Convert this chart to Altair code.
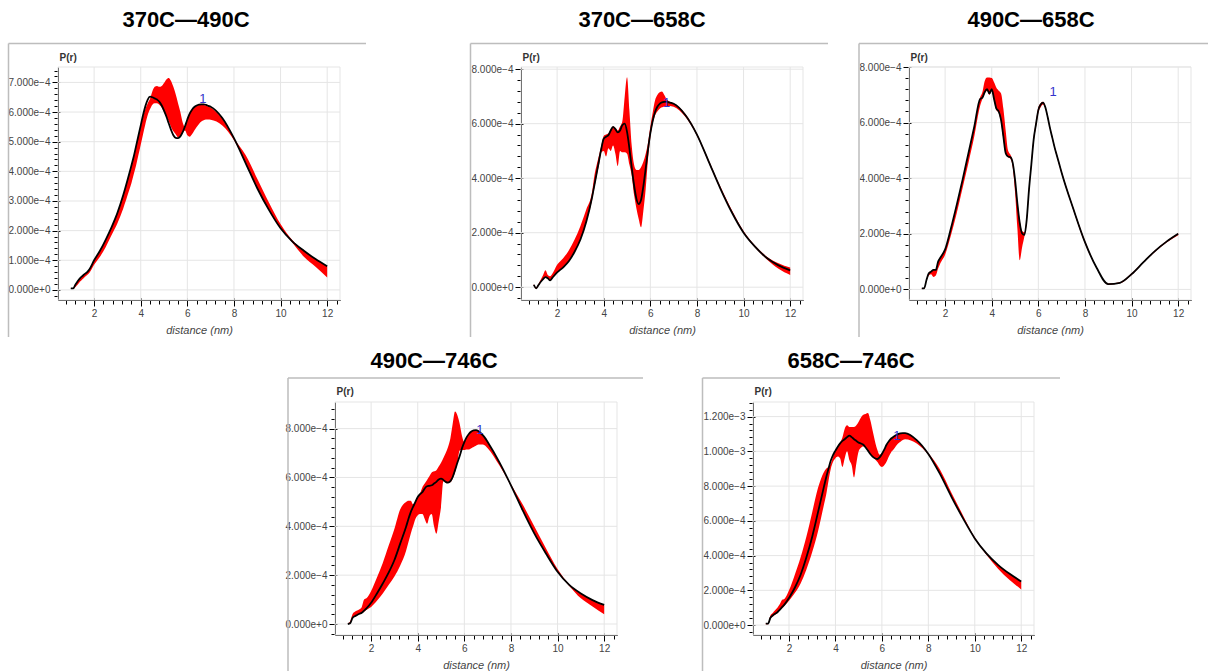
import altair as alt
import pandas as pd

FONT = "Liberation Sans"
FRAME = "#bdbdbd"
GRID = "#e5e5e5"
TEXT = "#444444"
PAGE_W, PAGE_H = 1209, 672

# distance grid (nm) shared by every panel
R = [1.0, 1.1, 1.2, 1.3, 1.4, 1.5, 1.6, 1.7, 1.8,
     2.0, 2.25, 2.5, 2.75, 3.0, 3.25, 3.5,
     3.6, 3.7, 3.8, 3.9, 4.0, 4.1, 4.2, 4.3, 4.4, 4.5,
     4.6, 4.7, 4.8, 4.9, 5.0, 5.1, 5.2, 5.3, 5.4, 5.5,
     5.6, 5.7, 5.8, 5.9, 6.0, 6.1, 6.2, 6.3, 6.4, 6.5,
     6.6, 6.7, 6.8, 6.9, 7.0,
     7.5, 8.0, 8.5, 9.0, 9.5, 10.0, 10.5, 11.0, 11.5, 12.0]

X_DOMAIN = [0.45, 12.55]
X_MAJOR = [2, 4, 6, 8, 10, 12]
X_MINOR = [0.8, 1.2, 1.6, 2.0, 2.4, 2.8, 3.2, 3.6, 4.0, 4.4, 4.8, 5.2, 5.6, 6.0,
           6.4, 6.8, 7.2, 7.6, 8.0, 8.4, 8.8, 9.2, 9.6, 10.0, 10.4, 10.8, 11.2,
           11.6, 12.0, 12.4]

# P(r) values below are in units of 1e-4
# ---- 370C-490C
P1_LINE = [0.05, 0.05, 0.18, 0.30, 0.40, 0.47, 0.54, 0.60, 0.70,
           1.00, 1.32, 1.70, 2.12, 2.60, 3.20, 3.90,
           4.20, 4.50, 4.85, 5.20, 5.55, 5.90, 6.20, 6.42, 6.52, 6.50,
           6.46, 6.42, 6.35, 6.22, 6.05, 5.85, 5.62, 5.40, 5.22, 5.13,
           5.12, 5.18, 5.32, 5.52, 5.75, 5.95, 6.08, 6.17, 6.22, 6.25,
           6.26, 6.26, 6.24, 6.21, 6.18,
           5.80, 5.12, 4.28, 3.43, 2.70, 2.08, 1.64, 1.32, 1.04, 0.80]
P1_LO = [0.03, 0.03, 0.10, 0.18, 0.28, 0.36, 0.44, 0.50, 0.58,
         0.85, 1.12, 1.45, 1.85, 2.25, 2.75, 3.35,
         3.60, 3.90, 4.20, 4.55, 4.90, 5.25, 5.60, 5.90, 6.10, 6.25,
         6.30, 6.30, 6.25, 6.15, 6.00, 5.85, 5.70, 5.50, 5.35, 5.25,
         5.15, 5.20, 5.30, 5.38, 5.22, 5.17, 5.25, 5.38, 5.50, 5.60,
         5.68, 5.72, 5.75, 5.75, 5.74,
         5.55, 5.05, 4.28, 3.43, 2.70, 2.08, 1.60, 1.12, 0.78, 0.42]
P1_HI = [0.06, 0.06, 0.18, 0.30, 0.40, 0.47, 0.54, 0.60, 0.70,
         1.00, 1.32, 1.70, 2.12, 2.60, 3.20, 3.90,
         4.20, 4.50, 4.85, 5.20, 5.50, 5.85, 6.10, 6.30, 6.45, 6.70,
         6.85, 6.88, 6.85, 6.88, 6.98, 7.10, 7.15, 7.05, 6.85, 6.60,
         6.30, 6.00, 5.65, 5.50, 5.80, 5.97, 6.09, 6.17, 6.22, 6.24,
         6.24, 6.24, 6.22, 6.19, 6.15,
         5.78, 5.12, 4.55, 3.75, 2.95, 2.22, 1.68, 1.32, 1.04, 0.80]

# ---- 370C-658C
P2_LINE = [0.09, -0.04, 0.08, 0.20, 0.30, 0.37, 0.33, 0.25, 0.35,
           0.54, 0.72, 0.95, 1.30, 1.75, 2.40, 3.30,
           3.75, 4.20, 4.65, 5.10, 5.45, 5.52, 5.58, 5.75, 5.88, 5.80,
           5.68, 5.75, 5.95, 6.00, 5.70, 5.10, 4.40, 3.75, 3.25, 3.05,
           3.20, 3.70, 4.35, 5.05, 5.65, 6.10, 6.42, 6.62, 6.73, 6.78,
           6.80, 6.81, 6.78, 6.76, 6.73,
           6.32, 5.60, 4.62, 3.63, 2.74, 2.00, 1.48, 1.07, 0.80, 0.62]
P2_LO = [0.05, -0.06, 0.05, 0.18, 0.28, 0.35, 0.30, 0.25, 0.35,
         0.54, 0.72, 0.95, 1.30, 1.75, 2.40, 3.20,
         3.65, 4.10, 4.50, 4.95, 5.00, 4.80, 5.10, 5.00, 5.20, 4.90,
         4.45, 5.00, 4.95, 4.95, 4.90, 4.50, 4.10, 3.40, 2.90, 2.50,
         2.20, 2.80, 3.60, 4.70, 5.50, 6.00, 6.30, 6.45, 6.55, 6.60,
         6.62, 6.65, 6.65, 6.64, 6.62,
         6.25, 5.55, 4.58, 3.60, 2.72, 1.98, 1.45, 1.02, 0.68, 0.45]
P2_HI = [0.12, 0.00, 0.12, 0.28, 0.45, 0.62, 0.45, 0.40, 0.50,
         0.82, 1.05, 1.35, 1.75, 2.25, 2.85, 3.50,
         4.10, 4.50, 4.85, 5.20, 5.55, 5.60, 5.65, 5.80, 5.90, 5.85,
         5.75, 5.90, 6.10, 7.00, 7.70, 6.50, 5.20, 4.50, 4.30, 4.30,
         4.40, 4.60, 4.90, 5.30, 5.90, 6.40, 6.85, 7.05, 7.15, 7.18,
         7.05, 6.90, 6.82, 6.78, 6.75,
         6.36, 5.64, 4.68, 3.70, 2.82, 2.06, 1.52, 1.12, 0.88, 0.72]

# ---- 490C-658C
P3_LINE = [0.04, 0.04, 0.34, 0.58, 0.64, 0.70, 0.70, 1.00, 1.15,
           1.44, 2.20, 3.05, 3.95, 4.90, 5.85, 6.85,
           6.90, 7.10, 7.20, 7.05, 7.20, 6.85, 6.50, 6.40, 6.10, 5.50,
           4.90, 4.78, 4.76, 4.55, 3.95, 3.10, 2.40, 2.02, 1.96, 2.50,
           3.60, 4.50, 5.40, 5.95, 6.45, 6.65, 6.72, 6.55, 6.20, 5.80,
           5.45, 5.10, 4.80, 4.50, 4.20,
           2.90, 1.70, 0.78, 0.19, 0.24, 0.55, 0.97, 1.38, 1.72, 2.00]
P3_LO = [0.02, 0.02, 0.30, 0.50, 0.55, 0.45, 0.50, 0.75, 0.95,
         1.25, 1.95, 2.75, 3.65, 4.55, 5.50, 6.60,
         6.85, 7.05, 7.15, 7.00, 7.15, 6.80, 6.45, 6.35, 6.00, 5.40,
         4.85, 4.75, 4.70, 4.40, 3.50, 2.20, 1.05, 1.50, 1.90, 2.40,
         3.50, 4.40, 5.30, 5.85, 6.35, 6.55, 6.65, 6.50, 6.15, 5.75,
         5.40, 5.05, 4.75, 4.45, 4.15,
         2.85, 1.65, 0.76, 0.17, 0.22, 0.52, 0.95, 1.35, 1.69, 1.95]
P3_HI = [0.05, 0.05, 0.36, 0.60, 0.66, 0.70, 0.72, 1.00, 1.15,
         1.44, 2.20, 3.05, 3.95, 4.90, 5.85, 6.90,
         7.10, 7.50, 7.62, 7.62, 7.60, 7.45, 7.25, 7.15, 7.05, 6.50,
         5.70, 5.00, 4.85, 4.60, 4.00, 3.20, 2.50, 2.10, 2.05, 2.60,
         3.70, 4.60, 5.50, 6.05, 6.55, 6.70, 6.75, 6.60, 6.25, 5.85,
         5.50, 5.15, 4.85, 4.55, 4.25,
         2.95, 1.75, 0.80, 0.21, 0.26, 0.58, 1.00, 1.40, 1.74, 2.02]

# ---- 490C-746C
P4_LINE = [0.00, 0.03, 0.25, 0.32, 0.37, 0.42, 0.46, 0.55, 0.64,
           0.87, 1.25, 1.66, 2.10, 2.62, 3.30, 3.98,
           4.30, 4.58, 4.80, 5.00, 5.20, 5.32, 5.40, 5.55, 5.64, 5.66,
           5.68, 5.75, 5.82, 5.92, 5.95, 5.90, 5.82, 5.79, 5.85, 6.02,
           6.30, 6.60, 6.88, 7.20, 7.45, 7.65, 7.79, 7.88, 7.93, 7.94,
           7.90, 7.82, 7.72, 7.60, 7.45,
           6.63, 5.68, 4.66, 3.71, 2.89, 2.14, 1.60, 1.25, 0.98, 0.78]
P4_LO = [0.00, 0.03, 0.25, 0.30, 0.35, 0.40, 0.44, 0.50, 0.58,
         0.70, 0.95, 1.25, 1.60, 1.95, 2.40, 3.00,
         3.35, 3.70, 4.00, 4.30, 4.45, 4.50, 4.50, 4.30, 4.10, 4.40,
         4.50, 4.00, 3.70, 4.20, 4.80, 5.85, 5.80, 5.78, 5.80, 5.95,
         6.20, 6.60, 7.10, 7.12, 7.12, 7.15, 7.15, 7.20, 7.25, 7.30,
         7.35, 7.35, 7.35, 7.30, 7.20,
         6.50, 5.65, 4.66, 3.71, 2.89, 2.14, 1.56, 1.05, 0.72, 0.40]
P4_HI = [0.02, 0.10, 0.40, 0.50, 0.55, 0.60, 0.70, 1.00, 1.05,
         1.35, 1.90, 2.50, 3.20, 3.90, 4.70, 5.00,
         5.05, 5.05, 4.90, 5.00, 5.20, 5.35, 5.60, 5.75, 5.90, 6.05,
         6.20, 6.25, 6.30, 6.45, 6.60, 6.80, 7.00, 7.25, 7.60, 8.20,
         8.70, 8.55, 8.20, 7.70, 7.45, 7.65, 7.79, 7.88, 7.93, 7.94,
         7.90, 7.82, 7.72, 7.60, 7.45,
         6.63, 5.72, 4.90, 4.00, 3.10, 2.25, 1.62, 1.25, 0.98, 0.78]

# ---- 658C-746C
P5_LINE = [0.08, 0.08, 0.42, 0.55, 0.65, 0.74, 0.88, 1.03, 1.18,
           1.56, 2.15, 2.90, 3.90, 5.09, 6.50, 7.94,
           8.50, 9.00, 9.47, 9.80, 10.04, 10.27, 10.46, 10.60, 10.70, 10.82,
           10.90, 10.82, 10.70, 10.60, 10.50, 10.45, 10.38, 10.22, 10.04, 9.85,
           9.70, 9.60, 9.56, 9.65, 9.85, 10.10, 10.38, 10.58, 10.74, 10.84,
           10.93, 10.99, 11.03, 11.05, 11.05,
           10.65, 9.85, 8.70, 7.37, 6.13, 4.99, 4.13, 3.47, 2.95, 2.51]
P5_LO = [0.05, 0.05, 0.35, 0.50, 0.60, 0.70, 0.85, 0.95, 1.10,
         1.40, 1.85, 2.40, 3.20, 4.20, 5.40, 6.90,
         7.50, 8.30, 9.00, 9.40, 9.60, 9.70, 9.60, 9.10, 9.60, 10.00,
         9.50, 9.20, 8.50, 9.30, 10.00, 10.20, 10.30, 10.20, 10.00, 9.85,
         9.70, 9.55, 9.40, 9.20, 9.10, 9.20, 9.40, 9.70, 9.95, 10.10,
         10.30, 10.45, 10.55, 10.65, 10.70,
         10.45, 9.80, 8.70, 7.37, 6.13, 4.95, 4.05, 3.25, 2.60, 2.05]
P5_HI = [0.10, 0.12, 0.55, 0.70, 0.85, 1.00, 1.20, 1.45, 1.50,
         2.00, 2.90, 3.90, 5.10, 6.50, 7.90, 8.80,
         9.00, 9.10, 9.30, 9.70, 10.00, 10.30, 10.50, 10.80, 11.30, 11.50,
         11.40, 11.40, 11.40, 11.50, 11.70, 11.95, 12.10, 12.15, 12.20, 11.80,
         11.20, 10.60, 10.10, 9.80, 9.90, 10.10, 10.38, 10.58, 10.74, 10.84,
         10.93, 10.99, 11.03, 11.05, 11.05,
         10.65, 9.90, 8.95, 7.60, 6.30, 5.05, 4.15, 3.47, 2.95, 2.51]

TITLES = ["370C\u2014490C", "370C\u2014658C", "490C\u2014658C",
          "490C\u2014746C", "658C\u2014746C"]
LINES = [P1_LINE, P2_LINE, P3_LINE, P4_LINE, P5_LINE]
LOWS = [P1_LO, P2_LO, P3_LO, P4_LO, P5_LO]
HIGHS = [P1_HI, P2_HI, P3_HI, P4_HI, P5_HI]
# peak marker "1": distance (nm), P(r) in 1e-4
MARK_R = [6.67, 6.70, 6.63, 6.67, 6.65]
MARK_P = [6.30, 6.60, 6.95, 7.80, 10.65]
# y ranges (1e-4) and tick lists (1e-4)
Y_DOMAINS = [[-0.34, 7.52], [-0.47, 8.08], [-0.38, 8.0], [-0.45, 9.09], [-0.57, 12.84]]
Y_MAJOR = [[0, 1, 2, 3, 4, 5, 6, 7], [0, 2, 4, 6, 8], [0, 2, 4, 6, 8],
           [0, 2, 4, 6, 8], [0, 2, 4, 6, 8, 10, 12]]
Y_MINOR_STEP = [0.2, 0.4, 0.4, 0.4, 0.4]

# page layout, in pixels
PX = [(58, 340), (521, 803), (909, 1191), (335, 617), (753, 1034)]   # plot left / right
PY = [(300, 67), (300, 67), (300, 67), (635, 402), (635, 402)]       # plot bottom / top
PR_Y = [60, 60, 60, 394, 394]                                       # "P(r)" baseline
HEAD = [(186, 20), (642, 20), (1031, 20), (434, 361), (851, 361)]   # heading centre
BOX = [(8.5, 366, 43.5, 337), (470.5, 828, 43.5, 337), (859, 1208, 43.5, 337),
       (288, 643, 378, 671), (702.5, 1060, 378, 671)]               # frame l, r, t, b

ONE = pd.DataFrame({"k": [0]})


def minor_values(lo, hi, step):
    vals = []
    k = int(lo / step) - 1
    while k * step <= hi:
        v = round(k * step, 6)
        if lo <= v <= hi:
            vals.append(round(v * 1e-4, 12))
        k += 1
    return vals


def scales(i):
    xs = alt.Scale(domain=X_DOMAIN, range=list(PX[i]), nice=False, zero=False)
    ys = alt.Scale(domain=[Y_DOMAINS[i][0] * 1e-4, Y_DOMAINS[i][1] * 1e-4],
                   range=list(PY[i]), nice=False, zero=False)
    return xs, ys


def tick_axis(orient, offset, values, size):
    # tick-only axis (no labels, domain or grid)
    return alt.Axis(orient=orient, offset=offset, values=values, labels=False,
                    domain=False, grid=False, tickColor="black", tickSize=size,
                    tickWidth=1, title=None)


def panel_layers(i):
    xs, ys = scales(i)
    x0, x1 = PX[i]
    yb, yt = PY[i]
    x_off = yb - PAGE_H
    y_off = -x0
    y_major = [round(v * 1e-4, 12) for v in Y_MAJOR[i]]

    df = pd.DataFrame({
        "r": R,
        "p": [v * 1e-4 for v in LINES[i]],
        "lo": [v * 1e-4 for v in LOWS[i]],
        "hi": [v * 1e-4 for v in HIGHS[i]],
    })
    base = alt.Chart(df)

    outline = alt.Chart(ONE).mark_rect(fillOpacity=0, stroke=GRID, strokeWidth=1).encode(
        x=alt.value(x0), x2=alt.value(x1), y=alt.value(yt), y2=alt.value(yb))
    xgrid = alt.Chart(pd.DataFrame({"r": X_MAJOR})).mark_rule(
        color=GRID, strokeWidth=1).encode(
        x=alt.X("r:Q", scale=xs, axis=None), y=alt.value(yt), y2=alt.value(yb))
    ygrid = alt.Chart(pd.DataFrame({"p": y_major})).mark_rule(
        color=GRID, strokeWidth=1).encode(
        y=alt.Y("p:Q", scale=ys, axis=None), x=alt.value(x0), x2=alt.value(x1))

    x_axis = alt.Axis(orient="bottom", offset=x_off, values=X_MAJOR, grid=False,
                      domainColor="black", domainWidth=1,
                      tickColor="black", tickSize=6, tickWidth=1,
                      labelColor=TEXT, labelFont=FONT, labelFontSize=10,
                      labelPadding=2, labelFlush=False, labelOverlap=False,
                      title="distance (nm)", titleFont=FONT, titleFontSize=11,
                      titleFontStyle="italic", titleFontWeight="normal",
                      titleColor=TEXT, titlePadding=6)
    y_axis = alt.Axis(orient="left", offset=y_off, values=y_major, grid=False,
                      labelExpr="replace(format(datum.value, '.3e'), '-', '\u2212')",
                      domainColor="black", domainWidth=1,
                      tickColor="black", tickSize=6, tickWidth=1,
                      labelColor=TEXT, labelFont=FONT, labelFontSize=10,
                      labelPadding=2, labelFlush=False, labelOverlap=False,
                      title="P(r)", titleAngle=0, titleAlign="left",
                      titleBaseline="alphabetic", titleX=1, titleY=PR_Y[i],
                      titleFont=FONT, titleFontSize=10, titleFontWeight="bold",
                      titleColor="#333333")
    band = base.mark_area(color="#ff0000", interpolate="monotone").encode(
        x=alt.X("r:Q", scale=xs, axis=x_axis),
        y=alt.Y("lo:Q", scale=ys, axis=y_axis),
        y2="hi:Q",
    )

    lo, hi = Y_DOMAINS[i]
    # minor ticks outside the axis lines
    minor = base.mark_point(opacity=0, size=1).encode(
        x=alt.X("r:Q", scale=xs, axis=tick_axis("bottom", x_off, X_MINOR, 4)),
        y=alt.Y("p:Q", scale=ys,
                axis=tick_axis("left", y_off, minor_values(lo, hi, Y_MINOR_STEP[i]), 4)),
    )
    # short inner part of the major ticks
    inner = base.mark_point(opacity=0, size=1).encode(
        x=alt.X("r:Q", scale=xs, axis=tick_axis("top", -yb, X_MAJOR, 2)),
        y=alt.Y("p:Q", scale=ys, axis=tick_axis("right", x0 - PAGE_W, y_major, 2)),
    )
    curve = base.mark_line(color="black", strokeWidth=1.8, interpolate="monotone").encode(
        x=alt.X("r:Q", scale=xs, axis=None),
        y=alt.Y("p:Q", scale=ys, axis=None),
    )
    mark_df = pd.DataFrame({"r": [MARK_R[i]], "p": [MARK_P[i] * 1e-4], "t": ["1"]})
    peak = alt.Chart(mark_df).mark_text(
        font=FONT, fontSize=13, color="#3333cc", align="center", baseline="alphabetic"
    ).encode(
        x=alt.X("r:Q", scale=xs, axis=None),
        y=alt.Y("p:Q", scale=ys, axis=None),
        text="t:N",
    )

    cx, cy = HEAD[i]
    head = alt.Chart(pd.DataFrame({"t": [TITLES[i]]})).mark_text(
        font=FONT, fontSize=22, fontWeight="bold", color="black",
        align="center", baseline="middle"
    ).encode(x=alt.value(cx), y=alt.value(cy), text="t:N")

    left, right, top, bottom = BOX[i]
    frame_top = alt.Chart(ONE).mark_rule(color=FRAME, strokeWidth=1.5).encode(
        x=alt.value(left), x2=alt.value(right), y=alt.value(top))
    frame_left = alt.Chart(ONE).mark_rule(color=FRAME, strokeWidth=1.5).encode(
        x=alt.value(left), y=alt.value(top), y2=alt.value(bottom))

    return [outline, xgrid, ygrid, band, minor, inner, curve, peak, head,
            frame_top, frame_left]


layers = []
for i in range(5):
    layers.extend(panel_layers(i))

chart = alt.layer(*layers).resolve_scale(
    x="independent", y="independent"
).properties(
    width=PAGE_W, height=PAGE_H, padding=0,
    autosize=alt.AutoSizeParams(type="none"),
).configure(font=FONT).configure_view(strokeOpacity=0)

chart.save("out.html", embed_options={"renderer": "svg", "actions": False})
